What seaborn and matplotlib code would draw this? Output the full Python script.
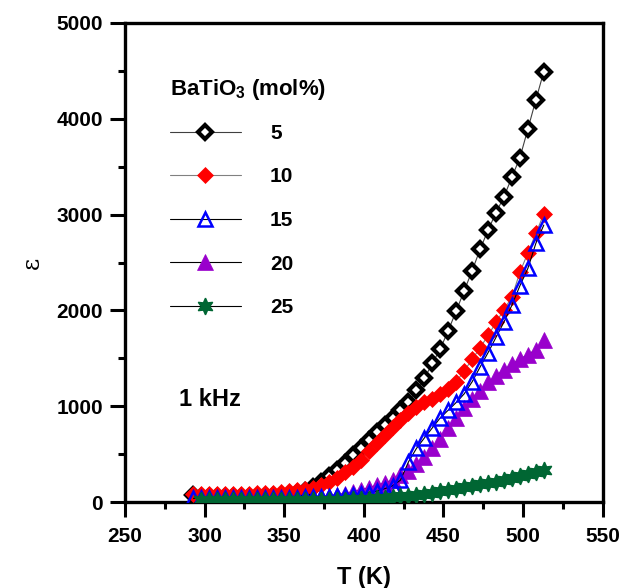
import numpy as np
import pandas as pd
import matplotlib
matplotlib.use("Agg")
import matplotlib.pyplot as plt
import seaborn as sns

sns.set_style("white")
plt.rcParams['font.family'] = ['Liberation Sans', 'DejaVu Sans']
plt.rcParams['mathtext.fontset'] = 'custom'
plt.rcParams['mathtext.rm'] = 'Liberation Sans:bold'
plt.rcParams['mathtext.bf'] = 'Liberation Sans:bold'
for key in ['text.color', 'axes.labelcolor', 'xtick.color', 'ytick.color']:
    plt.rcParams[key] = 'black'

# temperature grid (K)
temp = [293, 298, 303, 308, 313, 318, 323, 328, 333, 338, 343, 348, 353, 358, 363,
        368, 373, 378, 383, 388, 393, 398, 403, 408, 413, 418, 423, 428, 433, 438,
        443, 448, 453, 458, 463, 468, 473, 478, 483, 488, 493, 498, 503, 508, 513]

eps_5 = [70, 55, 50, 50, 50, 50, 52, 53, 55, 58, 62, 68, 78, 95, 120,
         160, 210, 270, 340, 410, 490, 570, 650, 730, 800, 880, 960, 1047, 1169, 1291,
         1448, 1600, 1790, 1995, 2205, 2415, 2638, 2839, 3020, 3187, 3392, 3594, 3893, 4196, 4492]

eps_10 = [80, 80, 80, 80, 82, 84, 86, 88, 92, 96, 100, 108, 115, 125, 135,
          150, 180, 210, 250, 310, 370, 445, 530, 613, 700, 785, 860, 925, 995, 1040,
          1080, 1130, 1180, 1256, 1370, 1490, 1610, 1740, 1875, 2010, 2140, 2400, 2600, 2805, 3006]

eps_15 = [40, 40, 45, 45, 45, 45, 45, 45, 45, 45, 45, 45, 45, 48, 50,
          52, 55, 58, 62, 68, 75, 85, 100, 115, 140, 170, 230, 420, 560, 670,
          775, 880, 960, 1040, 1130, 1256, 1410, 1560, 1720, 1880, 2056, 2258, 2439, 2700, 2891]

# 20 and 25 mol% start at 298 K
eps_20 = [30, 30, 30, 30, 30, 30, 32, 32, 33, 35, 37, 40, 45, 50,
          55, 60, 68, 78, 90, 110, 130, 150, 175, 200, 230, 280, 330, 395,
          475, 560, 660, 770, 880, 980, 1080, 1160, 1250, 1320, 1380, 1440, 1490, 1540, 1590, 1690]

eps_25 = [20, 20, 20, 20, 20, 20, 20, 20, 20, 20, 20, 20, 20, 20,
          21, 21, 22, 24, 26, 28, 32, 36, 40, 45, 52, 60, 68, 78,
          88, 100, 112, 125, 140, 155, 170, 185, 200, 215, 235, 255, 275, 295, 315, 334]

fig = plt.figure(figsize=(6.22, 5.88), dpi=100)
ax = fig.add_axes([0.201, 0.146, 0.768, 0.815])

# (label, T, eps, marker, face, edge, size, edge width, line colour, zorder)
series = [
    ("5", temp, eps_5, "D", "white", "black", 7, 3.0, "#404040", 2),
    ("10", temp, eps_10, "D", "red", "red", 8, 0.5, "#808080", 3),
    ("15", temp, eps_15, "^", "none", "blue", 9.5, 1.8, "black", 5),
    ("20", temp[1:], eps_20, "^", "#9900cc", "#9900cc", 11, 0.5, "black", 4),
    ("25", temp[1:], eps_25, (6, 1, 0), "#006633", "#006633", 12, 1.0, "black", 6),
]

for lab, t, e, mk, fc, ec, ms, mew, lc, z in series:
    sns.lineplot(x=t, y=e, ax=ax, color=lc, linewidth=0.8, marker=mk,
                 markerfacecolor=fc, markeredgecolor=ec, markersize=ms,
                 markeredgewidth=mew, zorder=z, label=lab)

ax.set_xlim(250, 550)
ax.set_ylim(0, 5000)
ax.set_xticks(np.arange(250, 551, 50))
ax.set_xticks(np.arange(275, 550, 50), minor=True)
ax.set_yticks(np.arange(0, 5001, 1000))
ax.set_yticks(np.arange(500, 5000, 1000), minor=True)
ax.tick_params(axis='both', which='major', direction='out', length=11, width=2.2,
               labelsize=15, bottom=True, left=True)
ax.tick_params(axis='x', which='major', pad=7)
ax.tick_params(axis='y', which='major', pad=5)
ax.tick_params(axis='both', which='minor', direction='out', length=5, width=2.2,
               bottom=True, left=True)
for lbl in ax.get_xticklabels() + ax.get_yticklabels():
    lbl.set_fontweight('bold')
for sp in ax.spines.values():
    sp.set_linewidth(2.4)
    sp.set_color('black')

ax.set_xlabel("T (K)", fontsize=17, fontweight='bold', labelpad=14)
ax.set_ylabel("ε", fontsize=17, family='DejaVu Serif', labelpad=9)

leg = ax.legend(loc='upper left', bbox_to_anchor=(0.094, 0.888), frameon=False,
                prop={'weight': 'bold', 'size': 15},
                title="BaTiO$_3$ (mol%)", title_fontproperties={'weight': 'bold', 'size': 16},
                handlelength=3.4, handletextpad=1.4, labelspacing=1.18, borderpad=0,
                borderaxespad=0)
leg._legend_box.align = "left"
leg._legend_box.sep = 16

ax.text(0.113, 0.2, "1 kHz", transform=ax.transAxes, fontsize=17, fontweight='bold')

fig.savefig("out.png", dpi=100)
